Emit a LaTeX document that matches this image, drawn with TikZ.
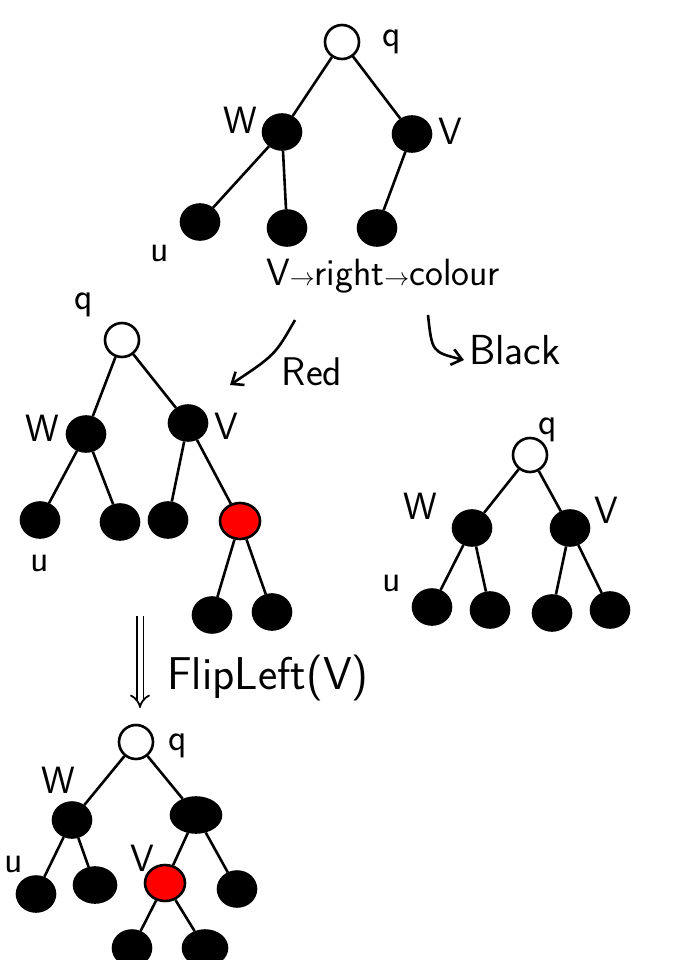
\documentclass[tikz,border=0pt]{standalone}
\usetikzlibrary{arrows.meta,shapes.geometric}
\begin{document}
\begin{tikzpicture}[x=1pt,y=-1pt,line width=2.6pt,
  blk/.style={ellipse,draw,fill=black,minimum width=38pt,minimum height=35pt,inner sep=0pt},
  wht/.style={circle,draw,fill=white,minimum size=34pt,inner sep=0pt},
  rd/.style={ellipse,draw,fill=red,minimum width=40pt,minimum height=36pt,inner sep=0pt},
  lbl/.style={font=\fontsize{38}{40}\selectfont\sffamily},
  txt/.style={font=\fontsize{38}{40}\selectfont\sffamily}]
  \useasboundingbox (0,0) rectangle (679,960);
  % first tree
  \node[wht] (q1) at (342,42) {};
  \node[blk] (w1) at (282,132) {};
  \node[blk] (v1) at (412,134) {};
  \node[blk] (u1) at (200,222) {};
  \node[blk] (a1) at (287,228) {};
  \node[blk] (b1) at (377,228) {};
  \draw (q1) -- (w1);
  \draw (q1) -- (v1);
  \draw (w1) -- (u1);
  \draw (w1) -- (a1);
  \draw (v1) -- (b1);
  \node[lbl] (q1l) at (392,42) {q};
  \node[lbl] (w1l) at (240,120) {W};
  \node[lbl] (v1l) at (450,131) {V};
  \node[lbl] (u1l) at (160,253) {u};
  \node[txt] (cond) at (383,276) {V$\rightarrow$right$\rightarrow$colour};
  % branches
  \coordinate (rs) at (295,320);
  \coordinate (re) at (230,385);
  \coordinate (bs) at (428,315);
  \coordinate (be) at (464,360);
  \draw[-{Straight Barb[length=10pt,width=16pt]}] (rs) .. controls (275,355) .. (re);
  \draw[-{Straight Barb[length=10pt,width=16pt]}] (bs) .. controls (432,352) .. (be);
  \node[txt,font=\fontsize{40}{42}\selectfont\sffamily] (red) at (312,372) {Red};
  \node[txt,font=\fontsize{42}{44}\selectfont\sffamily] (black) at (515,350) {Black};
  % second tree (red)
  \node[wht] (q2) at (122,340) {};
  \node[blk] (w2) at (86,434) {};
  \node[blk] (v2) at (188,423) {};
  \node[blk] (u2) at (40,520) {};
  \node[blk] (a2) at (120,522) {};
  \node[blk] (b2) at (168,520) {};
  \node[rd] (r2) at (240,521) {};
  \node[blk] (c2) at (212,615) {};
  \node[blk] (d2) at (272,612) {};
  \draw (q2) -- (w2);
  \draw (q2) -- (v2);
  \draw (w2) -- (u2);
  \draw (w2) -- (a2);
  \draw (v2) -- (b2);
  \draw (v2) -- (r2);
  \draw (r2) -- (c2);
  \draw (r2) -- (d2);
  \node[lbl] (q2l) at (84,305) {q};
  \node[lbl] (w2l) at (42,428) {W};
  \node[lbl] (v2l) at (226,426) {V};
  \node[lbl] (u2l) at (40,563) {u};
  % third tree (black)
  \node[wht] (q3) at (530,455) {};
  \node[blk] (w3) at (472,528) {};
  \node[blk] (v3) at (570,528) {};
  \node[blk] (u3) at (432,607) {};
  \node[blk] (a3) at (490,610) {};
  \node[blk] (b3) at (552,613) {};
  \node[blk] (c3) at (610,610) {};
  \draw (q3) -- (w3);
  \draw (q3) -- (v3);
  \draw (w3) -- (u3);
  \draw (w3) -- (a3);
  \draw (v3) -- (b3);
  \draw (v3) -- (c3);
  \node[lbl] (q3l) at (548,430) {q};
  \node[lbl] (w3l) at (420,506) {W};
  \node[lbl] (v3l) at (606,510) {V};
  \node[lbl] (u3l) at (392,583) {u};
  % flip
  \coordinate (fs) at (140,616);
  \coordinate (fe) at (140,708);
  \draw[double,double distance=5pt,line width=1.8pt,-{Implies}] (fs) -- (fe);
  \node[txt,font=\fontsize{46}{48}\selectfont\sffamily] (flip) at (268,678) {FlipLeft(V)};
  % fourth tree
  \node[wht] (q4) at (136,742) {};
  \node[blk] (w4) at (72,820) {};
  \node[blk,minimum width=50pt] (x4) at (196,815) {};
  \node[blk] (u4) at (36,894) {};
  \node[blk,minimum width=42pt] (a4) at (95,885) {};
  \node[rd] (v4) at (165,883) {};
  \node[blk] (b4) at (237,889) {};
  \node[blk] (c4) at (132,948) {};
  \node[blk,minimum width=44pt] (d4) at (205,948) {};
  \draw (q4) -- (w4);
  \draw (q4) -- (x4);
  \draw (w4) -- (u4);
  \draw (w4) -- (a4);
  \draw (x4) -- (v4);
  \draw (x4) -- (b4);
  \draw (v4) -- (c4);
  \draw (v4) -- (d4);
  \node[lbl] (q4l) at (178,746) {q};
  \node[lbl] (w4l) at (58,780) {W};
  \node[lbl] (v4l) at (142,858) {V};
  \node[lbl] (u4l) at (14,864) {u};
\end{tikzpicture}
\end{document}
